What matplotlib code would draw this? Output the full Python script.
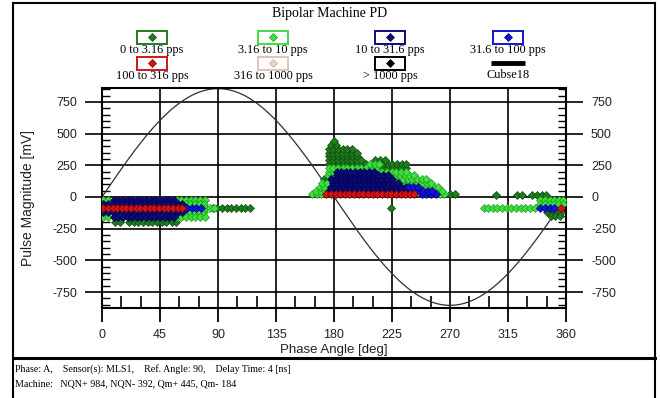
import numpy as np
import matplotlib
matplotlib.use("Agg")
import matplotlib.pyplot as plt
from matplotlib.patches import Rectangle

plt.rcParams['axes.unicode_minus'] = False

PHASE_STEP = 3.6          # phase bin width of the PD analyser [deg]
SINE_AMP = 855            # reference sine (Cubse18) amplitude [mV]

rate_labels = ["0 to 3.16 pps", "3.16 to 10 pps", "10 to 31.6 pps", "31.6 to 100 pps",
               "100 to 316 pps", "316 to 1000 pps", "> 1000 pps"]
rate_colors = ["#1f7d1f", "#3ee03e", "#0b0b7c", "#1414d2", "#d41414", "#ecd0c8", "#000000"]
rate_edges = ["#0c4a0c", "#1f9a1f", "#000048", "#000090", "#800000", "#c8aca4", "#000000"]
ref_label = "Cubse18"

# pulse bins per rate class: (magnitude mV, first phase deg, last phase deg)
bands_0_3 = [(-200, 10, 17), (-200, 21, 50), (-200, 54, 58), (-88, 86, 118),
             (-88, 224, 224),
             (140, 172, 176), (230, 214, 238), (260, 176, 206), (260, 218, 236),
             (290, 176, 204), (290, 212, 222), (320, 176, 200), (350, 176, 198),
             (380, 176, 194), (410, 178, 184), (440, 180, 180),
             (20, 270, 276), (15, 306, 306), (15, 322, 328), (15, 334, 346),
             (-120, 345, 359), (-150, 348, 358)]
bands_3_10 = [(-20, 1, 8), (-20, 58, 80), (-55, 65, 80), (-120, 65, 80),
              (-155, 1, 8), (-155, 58, 80), (-88, 80, 88),
              (20, 163, 172), (20, 262, 268), (50, 166, 174), (50, 260, 266),
              (80, 169, 176), (80, 250, 262), (110, 171, 177), (110, 234, 256),
              (140, 230, 252), (170, 175, 180), (170, 224, 244),
              (200, 176, 180), (200, 214, 236), (230, 176, 212), (260, 208, 216),
              (-85, 296, 338), (-25, 340, 358), (-55, 340, 358)]
bands_10_31 = [(-20, 9, 57), (-55, 1, 64), (-120, 1, 64), (-155, 9, 57),
               (50, 176, 240), (80, 178, 236), (110, 179, 232), (140, 178, 228),
               (170, 182, 222), (200, 182, 212)]
bands_31_100 = [(-88, 66, 78), (20, 248, 260), (50, 242, 258), (80, 238, 248),
                (-85, 340, 354)]
bands_100_316 = [(-88, 1, 64), (20, 174, 245), (-85, 356, 359)]
bands_316_1000 = []
bands_1000 = []
rate_bands = [bands_0_3, bands_3_10, bands_10_31, bands_31_100,
              bands_100_316, bands_316_1000, bands_1000]

x_ticks = np.arange(0, 361, 45)
y_ticks = [-750, -500, -250, 0, 250, 500, 750]


def expand(bands):
    ph, mag = [], []
    for m, p0, p1 in bands:
        p = np.arange(p0, p1 + 0.01, PHASE_STEP)
        ph.extend(p)
        mag.extend([m] * len(p))
    return np.array(ph), np.array(mag)


fig = plt.figure(figsize=(6.6, 3.98), dpi=100)
W, H = 660, 398
ax = fig.add_axes([102 / W, 1 - 308 / H, 464 / W, 220 / H])

phase = np.linspace(0, 360, 721)
ax.plot(phase, SINE_AMP * np.sin(np.radians(phase)), color="#303030", lw=0.9, zorder=2)
for bands, col, ec in zip(rate_bands, rate_colors, rate_edges):
    if not bands:
        continue
    ph, mag = expand(bands)
    ax.plot(ph, mag, ls="none", marker="D", ms=4.4, mfc=col, mec=ec, mew=0.5, zorder=3)

ax.set_xlim(0, 360)
ax.set_ylim(-876, 860)
ax.set_xticks(x_ticks)
ax.set_xticks(np.arange(0, 361, 15), minor=True)
ax.set_yticks(y_ticks)
ax.set_yticks(np.arange(-850, 851, 50), minor=True)
ax.grid(which="major", color="black", lw=1.2, zorder=1)
for s in ax.spines.values():
    s.set_linewidth(1.5)

ax.tick_params(axis="x", which="major", direction="out", length=10, width=1.3, pad=5,
               labelsize=9, labelcolor="#222222")
ax.tick_params(axis="x", which="minor", direction="in", length=9, width=1.2)
ax.tick_params(axis="y", which="major", direction="out", length=12, width=1.2, pad=6,
               left=True, right=True, labelleft=True, labelright=True,
               labelsize=9, labelcolor="#222222")
ax.tick_params(axis="y", which="minor", direction="in", length=6, width=1.0,
               left=True, right=True)
for lab in ax.get_xticklabels() + ax.get_yticklabels():
    lab.set_family("Liberation Sans")
ax.set_xlabel("Phase Angle [deg]", family="Liberation Sans", fontsize=9.5,
              color="#222222", labelpad=2)
ax.set_ylabel("Pulse Magnitude [mV]", family="Liberation Sans", fontsize=10,
              color="#222222", labelpad=12)

# frame, header legend and footer drawn in pixel coordinates
ov = fig.add_axes([0, 0, 1, 1], facecolor="none")
ov.set_xlim(0, W)
ov.set_ylim(H, 0)
ov.axis("off")
ov.plot([13, 13], [3, H], color="black", lw=1.5)
ov.plot([655, 655], [3, H], color="black", lw=1.5)
ov.plot([13, 655], [3, 3], color="black", lw=1.5)
ov.plot([13, 655], [358, 358], color="black", lw=2.2)

serif = "Liberation Serif"
ov.text(330, 14, "Bipolar Machine PD", ha="center", va="center", family=serif,
        fontsize=10)

col_x = [152, 273, 390, 508]
row_y = [37, 63]
for i, (lab, col, ec) in enumerate(zip(rate_labels, rate_colors, rate_edges)):
    cx, cy = col_x[i % 4], row_y[i // 4]
    box_col = col if col != "#ecd0c8" else "#e0c4bc"
    ov.add_patch(Rectangle((cx - 15, cy - 6.5), 30, 13, fill=False, ec=box_col, lw=1.4))
    ov.plot(cx, cy, marker="D", ms=4.5, mfc=col, mec=ec, mew=0.5)
    ov.text(cx, cy + 12.5, lab, ha="center", va="center", family=serif, fontsize=8.8)
cx, cy = col_x[3], row_y[1]
ov.plot([cx - 17, cx + 17], [cy, cy], color="black", lw=3.5, solid_capstyle="butt")
ov.text(cx, cy + 12.5, ref_label, ha="center", va="center", family=serif, fontsize=8.8)

ov.text(15, 369, "Phase: A,    Sensor(s): MLS1,    Ref. Angle: 90,    Delay Time: 4 [ns]",
        ha="left", va="center", family=serif, fontsize=7.2)
ov.text(15, 384, "Machine:   NQN+ 984, NQN- 392, Qm+ 445, Qm- 184",
        ha="left", va="center", family=serif, fontsize=7.2)

fig.savefig("out.png", dpi=100)
